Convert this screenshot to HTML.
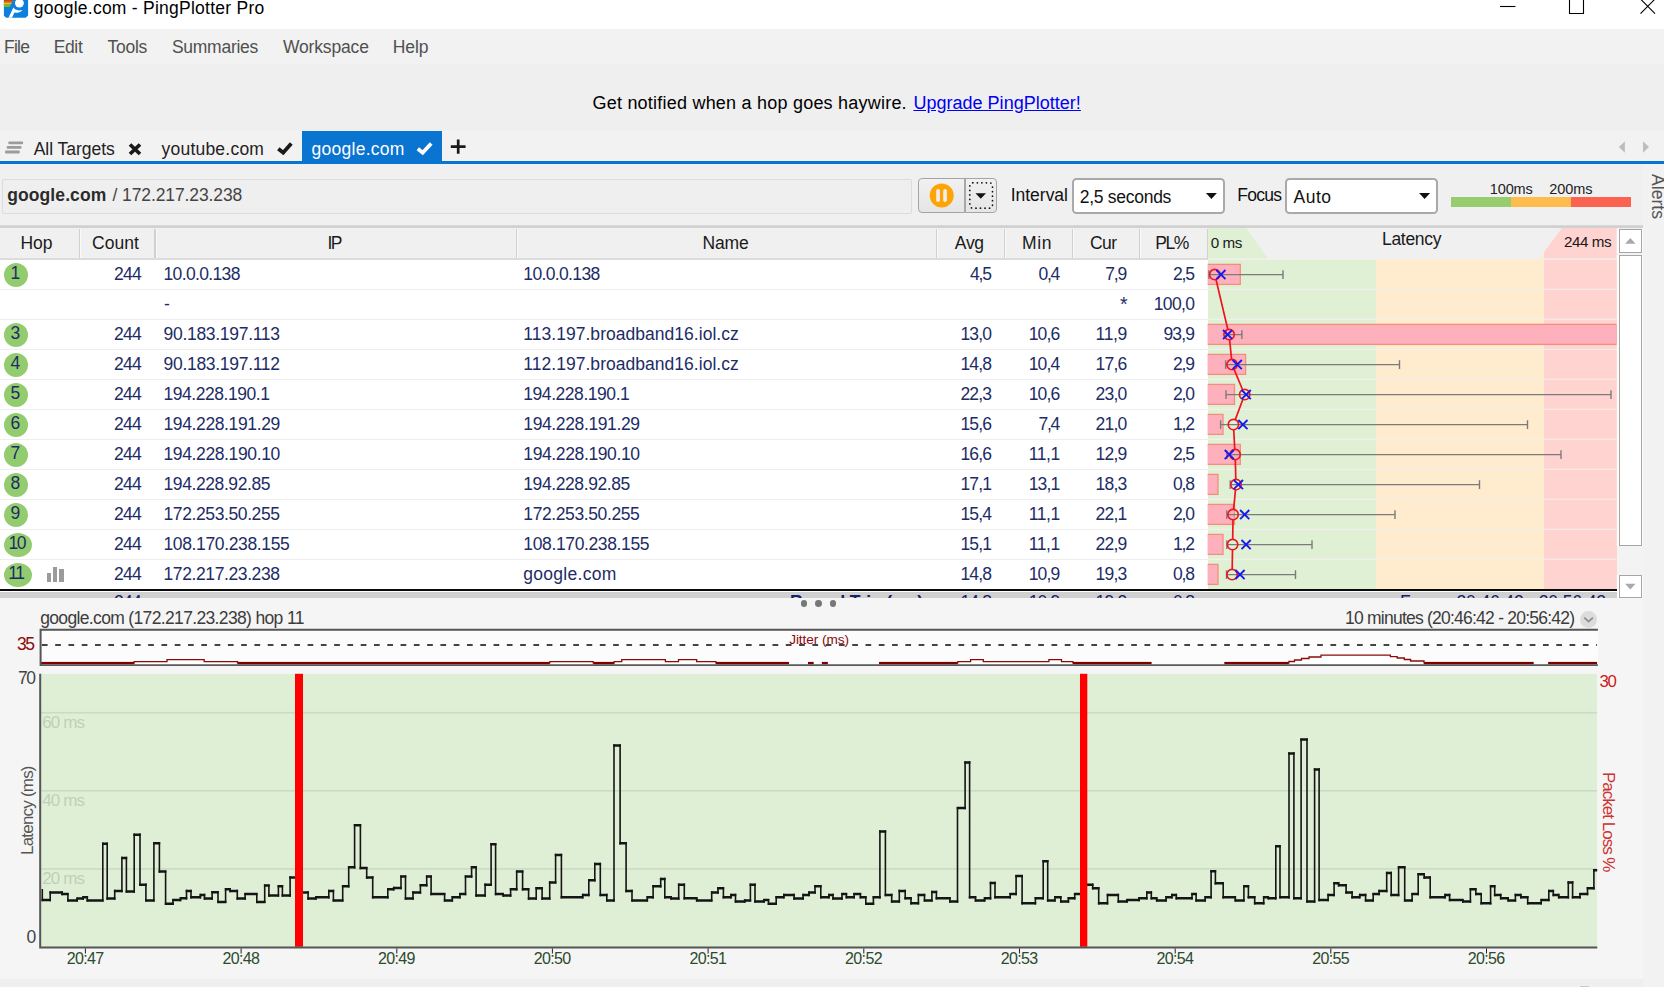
<!DOCTYPE html>
<html lang="en"><head><meta charset="utf-8"><title>google.com - PingPlotter Pro</title>
<style>
html,body{margin:0;padding:0;}
body{width:1664px;height:987px;overflow:hidden;background:#f2f2f2;font-family:"Liberation Sans",sans-serif;position:relative;}
.b{position:absolute;box-sizing:border-box;}
.t{position:absolute;white-space:pre;line-height:20px;height:20px;}
svg{position:absolute;left:0;top:0;overflow:visible;}
a.t{text-decoration:underline;}
</style></head><body>

<div class="b" style="left:0px;top:0px;width:1664px;height:29px;background:#fff;"></div>
<svg width="40" height="29" viewBox="0 0 40 29">
<path d="M3.9 0H28.1V15.6L25.6 17.8H6.2L3.9 15.8Z" fill="#0d80dd"/>
<path d="M3.9 0H13.2L12.45 1.6H3.9Z" fill="#ff3300"/>
<path d="M3.9 1.6H12.45L11.75 2.9H3.9Z" fill="#c08a30"/>
<path d="M3.9 2.9H11.75L11.15 4.1H3.9Z" fill="#ffc000"/>
<path d="M3.9 4.1H11.15L10.75 4.9H3.9Z" fill="#9aa060"/>
<path d="M3.9 4.9H10.75L9.6 7.1H3.9Z" fill="#74c200"/>
<circle cx="19.4" cy="3.1" r="4.45" fill="#fff"/>
<path d="M13.4 7.6C14.5 9.5 17 11.2 22.4 10.1C20.6 12.7 17.5 13.4 14.4 12.5L12 17.8H8.5Z" fill="#fff"/>
</svg>
<span class="t" style="left:33.70px;top:-2.30px;font-size:17.5px;color:#000;letter-spacing:0.254px;">google.com - PingPlotter Pro</span>
<svg width="1664" height="29" viewBox="0 0 1664 29" fill="none" stroke="#000" stroke-width="1.1">
<path d="M1500 6.5H1515.5"/>
<path d="M1569.5 -2V13.5H1583.5V-2"/>
<path d="M1640.5 -1L1655 13.7M1655 -1L1640.5 13.7"/>
</svg>
<span class="t" style="left:4.00px;top:37.30px;font-size:17.5px;color:#505050;letter-spacing:-0.758px;">File</span>
<span class="t" style="left:53.70px;top:37.30px;font-size:17.5px;color:#505050;letter-spacing:-0.363px;">Edit</span>
<span class="t" style="left:107.40px;top:37.30px;font-size:17.5px;color:#505050;letter-spacing:-0.241px;">Tools</span>
<span class="t" style="left:171.90px;top:37.30px;font-size:17.5px;color:#505050;letter-spacing:-0.258px;">Summaries</span>
<span class="t" style="left:282.90px;top:37.30px;font-size:17.5px;color:#505050;letter-spacing:-0.155px;">Workspace</span>
<span class="t" style="left:392.70px;top:37.30px;font-size:17.5px;color:#505050;letter-spacing:-0.088px;">Help</span>
<div class="b" style="left:0px;top:64px;width:1664px;height:67px;background:#efefef;"></div>
<span class="t" style="left:592.50px;top:92.70px;font-size:18px;color:#000;letter-spacing:0.220px;">Get notified when a hop goes haywire.</span>
<a class="t" style="left:913.4px;top:92.70px;font-size:18px;color:#0000f4;letter-spacing:0.02px;">Upgrade PingPlotter!</a>
<svg width="500" height="170" viewBox="0 0 500 170">
<g fill="#9c9c9c"><rect x="8.3" y="141.4" width="14.8" height="2.8" rx="1"/><rect x="6.7" y="145.9" width="14.8" height="2.8" rx="1"/><rect x="5" y="150.5" width="14.8" height="2.9" rx="1"/></g>
<path d="M130 144.5L140 154M140 144.5L130 154" stroke="#1a1a1a" stroke-width="3.7" fill="none"/>
<path d="M278.3 148.7L283.2 152.7L291.3 143.5" stroke="#1a1a1a" stroke-width="3.8" fill="none"/>
<rect x="302" y="131" width="140" height="31" fill="#0a74d1"/>
<path d="M417.8 148.7L422.7 152.7L431.2 143.5" stroke="#fff" stroke-width="3.8" fill="none"/>
<path d="M450.8 146.6H465.6M458.2 139.5V153.7" stroke="#1a1a1a" stroke-width="2.7" fill="none"/>
</svg>
<span class="t" style="left:33.70px;top:138.70px;font-size:17.5px;color:#222;letter-spacing:-0.028px;">All Targets</span>
<span class="t" style="left:161.50px;top:138.70px;font-size:17.5px;color:#222;letter-spacing:0.221px;">youtube.com</span>
<span class="t" style="left:311.50px;top:138.70px;font-size:17.5px;color:#fff;letter-spacing:0.269px;">google.com</span>
<svg width="1664" height="170" viewBox="0 0 1664 170"><g fill="#bdbdbd">
<path d="M1618.9 147L1624.9 141.3V152.8Z"/><path d="M1649 147L1643 141.3V152.8Z"/></g></svg>
<div class="b" style="left:0px;top:161px;width:1664px;height:3px;background:#0a74d1;"></div>
<div class="b" style="left:0px;top:164px;width:1643px;height:62px;background:#f0f0f0;"></div>
<div class="b" style="left:1.5px;top:178.5px;width:910px;height:35px;background:#efefef;border:1px solid #dcdcdc;border-radius:2px;"></div>
<span class="t" style="left:7.20px;top:184.50px;font-size:17.5px;color:#2b2b2b;letter-spacing:0.103px;font-weight:bold;">google.com</span>
<span class="t" style="left:112.50px;top:184.50px;font-size:17.5px;color:#444;letter-spacing:-0.102px;">/ 172.217.23.238</span>
<div class="b" style="left:918px;top:177.6px;width:78.9px;height:35.6px;border:1.7px solid #a4a4a4;border-radius:4px;background:linear-gradient(#f1f1f1,#e5e5e5);"></div>
<div class="b" style="left:964.3px;top:178.5px;width:1.4px;height:34px;background:#a8a8a8;"></div>
<svg width="1664" height="230" viewBox="0 0 1664 230">
<circle cx="941.7" cy="195.5" r="12" fill="#ffa406"/>
<rect x="936.2" y="189.1" width="3.7" height="12.9" rx="1.8" fill="#ededed"/>
<rect x="943.2" y="189.1" width="3.7" height="12.9" rx="1.8" fill="#ededed"/>
<rect x="969.8" y="182.8" width="22.7" height="25.4" rx="3" fill="none" stroke="#111" stroke-width="1.7" stroke-linecap="round" stroke-dasharray="0.1 4.42"/>
<path d="M975.5 193.3H986L980.75 198.8Z" fill="#111"/>
</svg>
<span class="t" style="left:1010.70px;top:185.00px;font-size:17.5px;color:#111;letter-spacing:-0.014px;">Interval</span>
<div class="b" style="left:1072.4px;top:178.1px;width:152.2px;height:35.5px;background:#fff;border:2px solid #a9a9a9;border-radius:4.5px;"></div>
<span class="t" style="left:1079.80px;top:187.30px;font-size:17.5px;color:#111;letter-spacing:-0.281px;">2,5 seconds</span>
<span class="t" style="left:1237.20px;top:185.00px;font-size:17.5px;color:#111;letter-spacing:-0.722px;">Focus</span>
<div class="b" style="left:1285.3px;top:178.1px;width:152.6px;height:35.5px;background:#fff;border:2px solid #a9a9a9;border-radius:4.5px;"></div>
<span class="t" style="left:1293.50px;top:187.30px;font-size:17.5px;color:#111;letter-spacing:0.513px;">Auto</span>
<svg width="1664" height="230" viewBox="0 0 1664 230"><g fill="#111">
<path d="M1205.9 193H1216.9L1211.4 199Z"/><path d="M1419.1 193H1430.1L1424.6 199Z"/></g></svg>
<span class="t" style="left:1489.80px;top:178.50px;font-size:14.5px;color:#222;letter-spacing:-0.150px;">100ms</span>
<span class="t" style="left:1549.30px;top:178.50px;font-size:14.5px;color:#222;letter-spacing:-0.075px;">200ms</span>
<div class="b" style="left:1451px;top:197.3px;width:60px;height:9.3px;background:#97cc6f;"></div>
<div class="b" style="left:1511px;top:197.3px;width:60px;height:9.3px;background:#fdbc4c;"></div>
<div class="b" style="left:1571px;top:197.3px;width:60px;height:9.3px;background:#fc6250;"></div>
<div class="b" style="left:0px;top:225.3px;width:1643px;height:3.5px;background:linear-gradient(#dcdcdc,#cfcfcf 40%,#d6d6d6);"></div>
<div class="b" style="left:0px;top:228px;width:1643px;height:31px;background:#f0f0f0;"></div>
<div class="b" style="left:0px;top:259px;width:1208px;height:331px;background:#fff;"></div>
<div class="b" style="left:1616.8px;top:228.8px;width:26.2px;height:369px;background:#f3f3f3;"></div>
<div class="b" style="left:0px;top:258.4px;width:1208px;height:1.3px;background:#dcdcdc;"></div>
<div class="b" style="left:78.7px;top:229px;width:1.3px;height:29px;background:#d0d0d0;"></div>
<div class="b" style="left:80.0px;top:229px;width:1.2px;height:29px;background:#fafafa;"></div>
<div class="b" style="left:154.4px;top:229px;width:1.3px;height:29px;background:#d0d0d0;"></div>
<div class="b" style="left:155.7px;top:229px;width:1.2px;height:29px;background:#fafafa;"></div>
<div class="b" style="left:515.6999999999999px;top:229px;width:1.3px;height:29px;background:#d0d0d0;"></div>
<div class="b" style="left:517.0px;top:229px;width:1.2px;height:29px;background:#fafafa;"></div>
<div class="b" style="left:935.9px;top:229px;width:1.3px;height:29px;background:#d0d0d0;"></div>
<div class="b" style="left:937.2px;top:229px;width:1.2px;height:29px;background:#fafafa;"></div>
<div class="b" style="left:1003.6999999999999px;top:229px;width:1.3px;height:29px;background:#d0d0d0;"></div>
<div class="b" style="left:1005.0px;top:229px;width:1.2px;height:29px;background:#fafafa;"></div>
<div class="b" style="left:1071.8000000000002px;top:229px;width:1.3px;height:29px;background:#d0d0d0;"></div>
<div class="b" style="left:1073.1000000000001px;top:229px;width:1.2px;height:29px;background:#fafafa;"></div>
<div class="b" style="left:1138.6000000000001px;top:229px;width:1.3px;height:29px;background:#d0d0d0;"></div>
<div class="b" style="left:1139.9px;top:229px;width:1.2px;height:29px;background:#fafafa;"></div>
<div class="b" style="left:1207px;top:229px;width:1.2px;height:29.5px;background:#cfcfcf;"></div>
<span class="t" style="left:20.40px;top:233.20px;font-size:17.5px;color:#1a1a1a;letter-spacing:-0.056px;">Hop</span>
<span class="t" style="left:92.00px;top:233.20px;font-size:17.5px;color:#1a1a1a;letter-spacing:0.069px;">Count</span>
<span class="t" style="left:327.43px;top:233.20px;font-size:17.5px;color:#1a1a1a;letter-spacing:-1.488px;">IP</span>
<span class="t" style="left:702.40px;top:233.20px;font-size:17.5px;color:#1a1a1a;letter-spacing:-0.108px;">Name</span>
<span class="t" style="left:954.80px;top:233.20px;font-size:17.5px;color:#1a1a1a;letter-spacing:-0.269px;">Avg</span>
<span class="t" style="left:1022.10px;top:233.20px;font-size:17.5px;color:#1a1a1a;letter-spacing:0.563px;">Min</span>
<span class="t" style="left:1089.90px;top:233.20px;font-size:17.5px;color:#1a1a1a;letter-spacing:-0.488px;">Cur</span>
<span class="t" style="left:1155.28px;top:233.20px;font-size:17.5px;color:#1a1a1a;letter-spacing:-1.488px;">PL%</span>
<div class="b" style="left:1207.7px;top:259px;width:168.0px;height:331px;background:#dff0d5;"></div>
<div class="b" style="left:1375.7px;top:259px;width:168.0999999999999px;height:331px;background:#ffebcd;"></div>
<div class="b" style="left:1543.8px;top:259px;width:73.0px;height:331px;background:#ffd3cf;"></div>
<div class="b" style="left:3.6px;top:262.5px;width:24.1px;height:24px;border-radius:50%;background:#93cc6e;"></div>
<span class="t" style="left:10.44px;top:262.80px;font-size:17.5px;color:#1d2c66;">1</span>
<span class="t" style="left:114.10px;top:263.70px;font-size:17.5px;color:#1d2c66;letter-spacing:-0.762px;">244</span>
<span class="t" style="left:163.50px;top:263.70px;font-size:17.5px;color:#1d2c66;letter-spacing:-0.643px;">10.0.0.138</span>
<span class="t" style="left:523.30px;top:263.70px;font-size:17.5px;color:#1d2c66;letter-spacing:-0.643px;">10.0.0.138</span>
<span class="t" style="left:970.10px;top:263.70px;font-size:17.5px;color:#1d2c66;letter-spacing:-1.213px;">4,5</span>
<span class="t" style="left:1038.40px;top:263.70px;font-size:17.5px;color:#1d2c66;letter-spacing:-1.212px;">0,4</span>
<span class="t" style="left:1105.30px;top:263.70px;font-size:17.5px;color:#1d2c66;letter-spacing:-1.212px;">7,9</span>
<span class="t" style="left:1173.10px;top:263.70px;font-size:17.5px;color:#1d2c66;letter-spacing:-1.212px;">2,5</span>
<div class="b" style="left:0px;top:288.5px;width:1208px;height:1.2px;background:#eeeeee;"></div>
<span class="t" style="left:164.00px;top:293.70px;font-size:17.5px;color:#1d2c66;">-</span>
<span class="t" style="left:1120.00px;top:293.90px;font-size:19.5px;color:#1d2c66;">*</span>
<span class="t" style="left:1153.70px;top:293.70px;font-size:17.5px;color:#1d2c66;letter-spacing:-0.634px;">100,0</span>
<div class="b" style="left:0px;top:318.5px;width:1208px;height:1.2px;background:#eeeeee;"></div>
<div class="b" style="left:3.6px;top:322.5px;width:24.1px;height:24px;border-radius:50%;background:#93cc6e;"></div>
<span class="t" style="left:10.44px;top:322.80px;font-size:17.5px;color:#1d2c66;">3</span>
<span class="t" style="left:114.10px;top:323.70px;font-size:17.5px;color:#1d2c66;letter-spacing:-0.762px;">244</span>
<span class="t" style="left:163.50px;top:323.70px;font-size:17.5px;color:#1d2c66;letter-spacing:-0.293px;">90.183.197.113</span>
<span class="t" style="left:523.30px;top:323.70px;font-size:17.5px;color:#1d2c66;letter-spacing:0.031px;">113.197.broadband16.iol.cz</span>
<span class="t" style="left:960.40px;top:323.70px;font-size:17.5px;color:#1d2c66;letter-spacing:-0.812px;">13,0</span>
<span class="t" style="left:1028.70px;top:323.70px;font-size:17.5px;color:#1d2c66;letter-spacing:-0.813px;">10,6</span>
<span class="t" style="left:1095.60px;top:323.70px;font-size:17.5px;color:#1d2c66;letter-spacing:-0.375px;">11,9</span>
<span class="t" style="left:1163.40px;top:323.70px;font-size:17.5px;color:#1d2c66;letter-spacing:-0.813px;">93,9</span>
<div class="b" style="left:0px;top:348.5px;width:1208px;height:1.2px;background:#eeeeee;"></div>
<div class="b" style="left:3.6px;top:352.5px;width:24.1px;height:24px;border-radius:50%;background:#93cc6e;"></div>
<span class="t" style="left:10.44px;top:352.80px;font-size:17.5px;color:#1d2c66;">4</span>
<span class="t" style="left:114.10px;top:353.70px;font-size:17.5px;color:#1d2c66;letter-spacing:-0.762px;">244</span>
<span class="t" style="left:163.50px;top:353.70px;font-size:17.5px;color:#1d2c66;letter-spacing:-0.293px;">90.183.197.112</span>
<span class="t" style="left:523.30px;top:353.70px;font-size:17.5px;color:#1d2c66;letter-spacing:0.031px;">112.197.broadband16.iol.cz</span>
<span class="t" style="left:960.40px;top:353.70px;font-size:17.5px;color:#1d2c66;letter-spacing:-0.812px;">14,8</span>
<span class="t" style="left:1028.70px;top:353.70px;font-size:17.5px;color:#1d2c66;letter-spacing:-0.813px;">10,4</span>
<span class="t" style="left:1095.60px;top:353.70px;font-size:17.5px;color:#1d2c66;letter-spacing:-0.813px;">17,6</span>
<span class="t" style="left:1173.10px;top:353.70px;font-size:17.5px;color:#1d2c66;letter-spacing:-1.212px;">2,9</span>
<div class="b" style="left:0px;top:378.5px;width:1208px;height:1.2px;background:#eeeeee;"></div>
<div class="b" style="left:3.6px;top:382.5px;width:24.1px;height:24px;border-radius:50%;background:#93cc6e;"></div>
<span class="t" style="left:10.44px;top:382.80px;font-size:17.5px;color:#1d2c66;">5</span>
<span class="t" style="left:114.10px;top:383.70px;font-size:17.5px;color:#1d2c66;letter-spacing:-0.762px;">244</span>
<span class="t" style="left:163.50px;top:383.70px;font-size:17.5px;color:#1d2c66;letter-spacing:-0.451px;">194.228.190.1</span>
<span class="t" style="left:523.30px;top:383.70px;font-size:17.5px;color:#1d2c66;letter-spacing:-0.451px;">194.228.190.1</span>
<span class="t" style="left:960.40px;top:383.70px;font-size:17.5px;color:#1d2c66;letter-spacing:-0.812px;">22,3</span>
<span class="t" style="left:1028.70px;top:383.70px;font-size:17.5px;color:#1d2c66;letter-spacing:-0.813px;">10,6</span>
<span class="t" style="left:1095.60px;top:383.70px;font-size:17.5px;color:#1d2c66;letter-spacing:-0.813px;">23,0</span>
<span class="t" style="left:1173.10px;top:383.70px;font-size:17.5px;color:#1d2c66;letter-spacing:-1.212px;">2,0</span>
<div class="b" style="left:0px;top:408.5px;width:1208px;height:1.2px;background:#eeeeee;"></div>
<div class="b" style="left:3.6px;top:412.5px;width:24.1px;height:24px;border-radius:50%;background:#93cc6e;"></div>
<span class="t" style="left:10.44px;top:412.80px;font-size:17.5px;color:#1d2c66;">6</span>
<span class="t" style="left:114.10px;top:413.70px;font-size:17.5px;color:#1d2c66;letter-spacing:-0.762px;">244</span>
<span class="t" style="left:163.50px;top:413.70px;font-size:17.5px;color:#1d2c66;letter-spacing:-0.379px;">194.228.191.29</span>
<span class="t" style="left:523.30px;top:413.70px;font-size:17.5px;color:#1d2c66;letter-spacing:-0.379px;">194.228.191.29</span>
<span class="t" style="left:960.40px;top:413.70px;font-size:17.5px;color:#1d2c66;letter-spacing:-0.812px;">15,6</span>
<span class="t" style="left:1038.40px;top:413.70px;font-size:17.5px;color:#1d2c66;letter-spacing:-1.212px;">7,4</span>
<span class="t" style="left:1095.60px;top:413.70px;font-size:17.5px;color:#1d2c66;letter-spacing:-0.813px;">21,0</span>
<span class="t" style="left:1173.10px;top:413.70px;font-size:17.5px;color:#1d2c66;letter-spacing:-1.212px;">1,2</span>
<div class="b" style="left:0px;top:438.5px;width:1208px;height:1.2px;background:#eeeeee;"></div>
<div class="b" style="left:3.6px;top:442.5px;width:24.1px;height:24px;border-radius:50%;background:#93cc6e;"></div>
<span class="t" style="left:10.44px;top:442.80px;font-size:17.5px;color:#1d2c66;">7</span>
<span class="t" style="left:114.10px;top:443.70px;font-size:17.5px;color:#1d2c66;letter-spacing:-0.762px;">244</span>
<span class="t" style="left:163.50px;top:443.70px;font-size:17.5px;color:#1d2c66;letter-spacing:-0.379px;">194.228.190.10</span>
<span class="t" style="left:523.30px;top:443.70px;font-size:17.5px;color:#1d2c66;letter-spacing:-0.379px;">194.228.190.10</span>
<span class="t" style="left:960.40px;top:443.70px;font-size:17.5px;color:#1d2c66;letter-spacing:-0.812px;">16,6</span>
<span class="t" style="left:1028.70px;top:443.70px;font-size:17.5px;color:#1d2c66;letter-spacing:-0.375px;">11,1</span>
<span class="t" style="left:1095.60px;top:443.70px;font-size:17.5px;color:#1d2c66;letter-spacing:-0.813px;">12,9</span>
<span class="t" style="left:1173.10px;top:443.70px;font-size:17.5px;color:#1d2c66;letter-spacing:-1.212px;">2,5</span>
<div class="b" style="left:0px;top:468.5px;width:1208px;height:1.2px;background:#eeeeee;"></div>
<div class="b" style="left:3.6px;top:472.5px;width:24.1px;height:24px;border-radius:50%;background:#93cc6e;"></div>
<span class="t" style="left:10.44px;top:472.80px;font-size:17.5px;color:#1d2c66;">8</span>
<span class="t" style="left:114.10px;top:473.70px;font-size:17.5px;color:#1d2c66;letter-spacing:-0.762px;">244</span>
<span class="t" style="left:163.50px;top:473.70px;font-size:17.5px;color:#1d2c66;letter-spacing:-0.409px;">194.228.92.85</span>
<span class="t" style="left:523.30px;top:473.70px;font-size:17.5px;color:#1d2c66;letter-spacing:-0.409px;">194.228.92.85</span>
<span class="t" style="left:960.40px;top:473.70px;font-size:17.5px;color:#1d2c66;letter-spacing:-0.812px;">17,1</span>
<span class="t" style="left:1028.70px;top:473.70px;font-size:17.5px;color:#1d2c66;letter-spacing:-0.813px;">13,1</span>
<span class="t" style="left:1095.60px;top:473.70px;font-size:17.5px;color:#1d2c66;letter-spacing:-0.813px;">18,3</span>
<span class="t" style="left:1173.10px;top:473.70px;font-size:17.5px;color:#1d2c66;letter-spacing:-1.212px;">0,8</span>
<div class="b" style="left:0px;top:498.5px;width:1208px;height:1.2px;background:#eeeeee;"></div>
<div class="b" style="left:3.6px;top:502.5px;width:24.1px;height:24px;border-radius:50%;background:#93cc6e;"></div>
<span class="t" style="left:10.44px;top:502.80px;font-size:17.5px;color:#1d2c66;">9</span>
<span class="t" style="left:114.10px;top:503.70px;font-size:17.5px;color:#1d2c66;letter-spacing:-0.762px;">244</span>
<span class="t" style="left:163.50px;top:503.70px;font-size:17.5px;color:#1d2c66;letter-spacing:-0.394px;">172.253.50.255</span>
<span class="t" style="left:523.30px;top:503.70px;font-size:17.5px;color:#1d2c66;letter-spacing:-0.394px;">172.253.50.255</span>
<span class="t" style="left:960.40px;top:503.70px;font-size:17.5px;color:#1d2c66;letter-spacing:-0.812px;">15,4</span>
<span class="t" style="left:1028.70px;top:503.70px;font-size:17.5px;color:#1d2c66;letter-spacing:-0.375px;">11,1</span>
<span class="t" style="left:1095.60px;top:503.70px;font-size:17.5px;color:#1d2c66;letter-spacing:-0.813px;">22,1</span>
<span class="t" style="left:1173.10px;top:503.70px;font-size:17.5px;color:#1d2c66;letter-spacing:-1.212px;">2,0</span>
<div class="b" style="left:0px;top:528.5px;width:1208px;height:1.2px;background:#eeeeee;"></div>
<div class="b" style="left:3.7px;top:532.6px;width:27.9px;height:24px;border-radius:50%;background:#93cc6e;"></div>
<span class="t" style="left:8.48px;top:532.80px;font-size:17.5px;color:#1d2c66;letter-spacing:-1.488px;">10</span>
<span class="t" style="left:114.10px;top:533.70px;font-size:17.5px;color:#1d2c66;letter-spacing:-0.762px;">244</span>
<span class="t" style="left:163.50px;top:533.70px;font-size:17.5px;color:#1d2c66;letter-spacing:-0.366px;">108.170.238.155</span>
<span class="t" style="left:523.30px;top:533.70px;font-size:17.5px;color:#1d2c66;letter-spacing:-0.366px;">108.170.238.155</span>
<span class="t" style="left:960.40px;top:533.70px;font-size:17.5px;color:#1d2c66;letter-spacing:-0.812px;">15,1</span>
<span class="t" style="left:1028.70px;top:533.70px;font-size:17.5px;color:#1d2c66;letter-spacing:-0.375px;">11,1</span>
<span class="t" style="left:1095.60px;top:533.70px;font-size:17.5px;color:#1d2c66;letter-spacing:-0.813px;">22,9</span>
<span class="t" style="left:1173.10px;top:533.70px;font-size:17.5px;color:#1d2c66;letter-spacing:-1.212px;">1,2</span>
<div class="b" style="left:0px;top:558.5px;width:1208px;height:1.2px;background:#eeeeee;"></div>
<div class="b" style="left:3.7px;top:562.6px;width:27.9px;height:24px;border-radius:50%;background:#93cc6e;"></div>
<span class="t" style="left:8.24px;top:562.80px;font-size:17.5px;color:#1d2c66;letter-spacing:-1.488px;">11</span>
<span class="t" style="left:114.10px;top:563.70px;font-size:17.5px;color:#1d2c66;letter-spacing:-0.762px;">244</span>
<span class="t" style="left:163.50px;top:563.70px;font-size:17.5px;color:#1d2c66;letter-spacing:-0.394px;">172.217.23.238</span>
<span class="t" style="left:523.30px;top:563.70px;font-size:17.5px;color:#1d2c66;letter-spacing:0.281px;">google.com</span>
<span class="t" style="left:960.40px;top:563.70px;font-size:17.5px;color:#1d2c66;letter-spacing:-0.812px;">14,8</span>
<span class="t" style="left:1028.70px;top:563.70px;font-size:17.5px;color:#1d2c66;letter-spacing:-0.813px;">10,9</span>
<span class="t" style="left:1095.60px;top:563.70px;font-size:17.5px;color:#1d2c66;letter-spacing:-0.813px;">19,3</span>
<span class="t" style="left:1173.10px;top:563.70px;font-size:17.5px;color:#1d2c66;letter-spacing:-1.212px;">0,8</span>
<div class="b" style="left:47.1px;top:572.6px;width:3.9px;height:9.1px;background:#9b9b9b;"></div>
<div class="b" style="left:52.9px;top:567.3px;width:4.3px;height:14.4px;background:#9b9b9b;"></div>
<div class="b" style="left:59.3px;top:569.4px;width:4.6px;height:12.3px;background:#9b9b9b;"></div>
<svg width="1664" height="600" viewBox="0 0 1664 600"><defs><clipPath id="lc"><rect x="1207.7" y="228" width="409.1" height="361.3"/></clipPath></defs><g clip-path="url(#lc)">
<path d="M1207.7 228H1246L1268 258.5H1207.7Z" fill="#dff0d5"/>
<path d="M1562 228H1616.8V258.5H1544V252Z" fill="#ffd3cf"/>
<path d="M1544 252V258.5H1539.5Z" fill="#ffebcd"/>
<rect x="1207.7" y="258.7" width="409.1" height="1.2" fill="#f4f1ec" opacity="0.85"/>
<rect x="1207.7" y="288.7" width="409.1" height="1.2" fill="#f4f1ec" opacity="0.85"/>
<rect x="1207.7" y="318.7" width="409.1" height="1.2" fill="#f4f1ec" opacity="0.85"/>
<rect x="1207.7" y="348.7" width="409.1" height="1.2" fill="#f4f1ec" opacity="0.85"/>
<rect x="1207.7" y="378.7" width="409.1" height="1.2" fill="#f4f1ec" opacity="0.85"/>
<rect x="1207.7" y="408.7" width="409.1" height="1.2" fill="#f4f1ec" opacity="0.85"/>
<rect x="1207.7" y="438.7" width="409.1" height="1.2" fill="#f4f1ec" opacity="0.85"/>
<rect x="1207.7" y="468.7" width="409.1" height="1.2" fill="#f4f1ec" opacity="0.85"/>
<rect x="1207.7" y="498.7" width="409.1" height="1.2" fill="#f4f1ec" opacity="0.85"/>
<rect x="1207.7" y="528.7" width="409.1" height="1.2" fill="#f4f1ec" opacity="0.85"/>
<rect x="1207.7" y="558.7" width="409.1" height="1.2" fill="#f4f1ec" opacity="0.85"/>
<rect x="1206.7" y="264.4" width="33.6" height="20" fill="#feb1bc" stroke="#f28f7c" stroke-width="1.3"/>
<path d="M1208.9 274.6H1283.0M1208.9 270.3v8.6M1283.0 270.3v8.6" stroke="#7b7b7b" stroke-width="1.4" fill="none"/>
<rect x="1206.7" y="324.4" width="410.1" height="20" fill="#feb1bc" stroke="#f28f7c" stroke-width="1.3"/>
<path d="M1226.0 334.6H1241.9M1226.0 330.3v8.6M1241.9 330.3v8.6" stroke="#7b7b7b" stroke-width="1.4" fill="none"/>
<rect x="1206.7" y="354.4" width="38.9" height="20" fill="#feb1bc" stroke="#f28f7c" stroke-width="1.3"/>
<path d="M1225.6 364.6H1399.5M1225.6 360.3v8.6M1399.5 360.3v8.6" stroke="#7b7b7b" stroke-width="1.4" fill="none"/>
<rect x="1206.7" y="384.4" width="27.8" height="20" fill="#feb1bc" stroke="#f28f7c" stroke-width="1.3"/>
<path d="M1226.0 394.6H1611.0M1226.0 390.3v8.6M1611.0 390.3v8.6" stroke="#7b7b7b" stroke-width="1.4" fill="none"/>
<rect x="1206.7" y="414.4" width="16.3" height="20" fill="#feb1bc" stroke="#f28f7c" stroke-width="1.3"/>
<path d="M1220.6 424.6H1527.5M1220.6 420.3v8.6M1527.5 420.3v8.6" stroke="#7b7b7b" stroke-width="1.4" fill="none"/>
<rect x="1206.7" y="444.4" width="33.6" height="20" fill="#feb1bc" stroke="#f28f7c" stroke-width="1.3"/>
<path d="M1226.8 454.6H1561.0M1226.8 450.3v8.6M1561.0 450.3v8.6" stroke="#7b7b7b" stroke-width="1.4" fill="none"/>
<rect x="1206.7" y="474.4" width="11.3" height="20" fill="#feb1bc" stroke="#f28f7c" stroke-width="1.3"/>
<path d="M1230.2 484.6H1479.5M1230.2 480.3v8.6M1479.5 480.3v8.6" stroke="#7b7b7b" stroke-width="1.4" fill="none"/>
<rect x="1206.7" y="504.4" width="27.8" height="20" fill="#feb1bc" stroke="#f28f7c" stroke-width="1.3"/>
<path d="M1226.8 514.6H1395.0M1226.8 510.3v8.6M1395.0 510.3v8.6" stroke="#7b7b7b" stroke-width="1.4" fill="none"/>
<rect x="1206.7" y="534.4" width="16.3" height="20" fill="#feb1bc" stroke="#f28f7c" stroke-width="1.3"/>
<path d="M1226.8 544.6H1312.0M1226.8 540.3v8.6M1312.0 540.3v8.6" stroke="#7b7b7b" stroke-width="1.4" fill="none"/>
<rect x="1206.7" y="564.4" width="11.3" height="20" fill="#feb1bc" stroke="#f28f7c" stroke-width="1.3"/>
<path d="M1226.5 574.6H1295.5M1226.5 570.3v8.6M1295.5 570.3v8.6" stroke="#7b7b7b" stroke-width="1.4" fill="none"/>
<path d="M1216.0 279.5L1227.9 329.7M1229.6 339.6L1231.6 359.6M1234.0 369.2L1242.7 390.0M1242.9 399.3L1235.2 419.9M1233.7 429.6L1234.8 449.6M1235.3 459.6L1235.8 479.6M1235.5 489.6L1233.6 509.6M1233.0 519.6L1232.7 539.6M1232.5 549.6L1232.2 569.6" stroke="#f0141e" stroke-width="1.7" fill="none"/>
<circle cx="1214.8" cy="274.6" r="5.2" stroke="#f0141e" stroke-width="1.6" fill="none"/>
<path d="M1216.3 270.0l9.2 9.2m0 -9.2l-9.2 9.2" stroke="#1a1aee" stroke-width="1.9" fill="none"/>
<circle cx="1229.1" cy="334.6" r="5.2" stroke="#f0141e" stroke-width="1.6" fill="none"/>
<path d="M1223.0 330.0l9.2 9.2m0 -9.2l-9.2 9.2" stroke="#1a1aee" stroke-width="1.9" fill="none"/>
<circle cx="1232.1" cy="364.6" r="5.2" stroke="#f0141e" stroke-width="1.6" fill="none"/>
<path d="M1232.6 360.0l9.2 9.2m0 -9.2l-9.2 9.2" stroke="#1a1aee" stroke-width="1.9" fill="none"/>
<circle cx="1244.7" cy="394.6" r="5.2" stroke="#f0141e" stroke-width="1.6" fill="none"/>
<path d="M1241.6 390.0l9.2 9.2m0 -9.2l-9.2 9.2" stroke="#1a1aee" stroke-width="1.9" fill="none"/>
<circle cx="1233.4" cy="424.6" r="5.2" stroke="#f0141e" stroke-width="1.6" fill="none"/>
<path d="M1238.3 420.0l9.2 9.2m0 -9.2l-9.2 9.2" stroke="#1a1aee" stroke-width="1.9" fill="none"/>
<circle cx="1235.1" cy="454.6" r="5.2" stroke="#f0141e" stroke-width="1.6" fill="none"/>
<path d="M1224.7 450.0l9.2 9.2m0 -9.2l-9.2 9.2" stroke="#1a1aee" stroke-width="1.9" fill="none"/>
<circle cx="1236.0" cy="484.6" r="5.2" stroke="#f0141e" stroke-width="1.6" fill="none"/>
<path d="M1233.8 480.0l9.2 9.2m0 -9.2l-9.2 9.2" stroke="#1a1aee" stroke-width="1.9" fill="none"/>
<circle cx="1233.1" cy="514.6" r="5.2" stroke="#f0141e" stroke-width="1.6" fill="none"/>
<path d="M1240.1 510.0l9.2 9.2m0 -9.2l-9.2 9.2" stroke="#1a1aee" stroke-width="1.9" fill="none"/>
<circle cx="1232.6" cy="544.6" r="5.2" stroke="#f0141e" stroke-width="1.6" fill="none"/>
<path d="M1241.5 540.0l9.2 9.2m0 -9.2l-9.2 9.2" stroke="#1a1aee" stroke-width="1.9" fill="none"/>
<circle cx="1232.1" cy="574.6" r="5.2" stroke="#f0141e" stroke-width="1.6" fill="none"/>
<path d="M1235.4 570.0l9.2 9.2m0 -9.2l-9.2 9.2" stroke="#1a1aee" stroke-width="1.9" fill="none"/>
</g></svg>
<span class="t" style="left:1210.70px;top:232.70px;font-size:15.2px;color:#1a1a1a;letter-spacing:-0.403px;">0 ms</span>
<span class="t" style="left:1382.00px;top:229.30px;font-size:17.5px;color:#1a1a1a;letter-spacing:-0.306px;">Latency</span>
<span class="t" style="left:1563.90px;top:232.30px;font-size:15.2px;color:#1a1a1a;letter-spacing:-0.431px;">244 ms</span>
<div class="b" style="left:1619px;top:229.3px;width:23px;height:23.5px;background:#fff;border:1.8px solid #a6a6a6;box-shadow:-2.2px 0 0 #fdfdfd,0.8px 0 0 #fdfdfd;"></div>
<div class="b" style="left:1619px;top:255.3px;width:23px;height:291.2px;background:#fff;border:1.8px solid #a6a6a6;box-shadow:-2.2px 0 0 #fdfdfd,0.8px 0 0 #fdfdfd;"></div>
<div class="b" style="left:1619px;top:575.3px;width:23px;height:22.6px;background:#fff;border:1.8px solid #a6a6a6;box-shadow:-2.2px 0 0 #fdfdfd,0.8px 0 0 #fdfdfd;"></div>
<svg width="1664" height="600" viewBox="0 0 1664 600"><g fill="#a9a9a9">
<path d="M1625.1 243.8H1635.5L1630.3 238Z"/><path d="M1625.1 583.7H1635.5L1630.3 589.5Z"/></g></svg>
<div class="b" style="left:0px;top:589.3px;width:1617px;height:2px;background:#0a0a0a;"></div>
<div class="b" style="left:0px;top:591.3px;width:1617px;height:1px;background:#fff;"></div>
<div class="b" style="left:0;top:592.3px;width:1617px;height:5.5px;background:#d0d0d0;overflow:hidden;">
<span class="t" style="left:114.10px;top:0.00px;font-size:17.5px;color:#14206a;letter-spacing:-0.762px;">244</span>
<span class="t" style="left:790.00px;top:0.00px;font-size:17.5px;color:#14206a;letter-spacing:-0.081px;font-weight:bold;">Round Trip (ms)</span>
<span class="t" style="left:960.40px;top:0.00px;font-size:17.5px;color:#14206a;letter-spacing:-0.812px;">14,8</span>
<span class="t" style="left:1028.70px;top:0.00px;font-size:17.5px;color:#14206a;letter-spacing:-0.813px;">10,9</span>
<span class="t" style="left:1095.60px;top:0.00px;font-size:17.5px;color:#14206a;letter-spacing:-0.813px;">19,3</span>
<span class="t" style="left:1173.10px;top:0.00px;font-size:17.5px;color:#14206a;letter-spacing:-1.212px;">0,8</span>
<span class="t" style="left:1400.00px;top:0.00px;font-size:17.5px;color:#14206a;letter-spacing:-0.128px;">Focus: 20:46:42 - 20:56:42</span>
</div>
<div class="b" style="left:0px;top:597.8px;width:1643px;height:381px;background:#f5f5f5;"></div>
<div class="b" style="left:800.6px;top:599.9px;width:6.8px;height:6.8px;border-radius:50%;background:#777;"></div>
<div class="b" style="left:815.1px;top:599.9px;width:6.8px;height:6.8px;border-radius:50%;background:#777;"></div>
<div class="b" style="left:829.6px;top:599.9px;width:6.8px;height:6.8px;border-radius:50%;background:#777;"></div>
<span class="t" style="left:40.20px;top:608.00px;font-size:17.5px;color:#3c3c3c;letter-spacing:-0.651px;">google.com (172.217.23.238) hop 11</span>
<span class="t" style="left:1345.00px;top:608.00px;font-size:17.5px;color:#3c3c3c;letter-spacing:-0.769px;">10 minutes (20:46:42 - 20:56:42)</span>
<div class="b" style="left:1580.2px;top:610.8px;width:16.8px;height:16.8px;border-radius:50%;background:#dcdcdc;"></div>
<div class="b" style="left:40px;top:629px;width:1558px;height:36.8px;background:#fcfcfc;"></div>
<span class="t" style="left:16.98px;top:633.50px;font-size:17.5px;color:#8a0a0a;letter-spacing:-1.488px;">35</span>
<svg width="1664" height="987" viewBox="0 0 1664 987">
<path d="M1584.3 617.6L1588.6 621.6L1592.9 617.6" stroke="#8e8e8e" stroke-width="1.8" fill="none"/>
<path d="M41.9 645H1597" stroke="#444" stroke-width="1.8" stroke-dasharray="5.7 7.584" fill="none"/>
<rect x="41.0" y="661.9" width="93.2" height="2.4" fill="#7b0000"/>
<rect x="237.5" y="661.9" width="312.3" height="2.4" fill="#7b0000"/>
<rect x="593.2" y="661.9" width="21.0" height="2.4" fill="#7b0000"/>
<rect x="715.9" y="661.9" width="73.1" height="2.4" fill="#7b0000"/>
<rect x="808.0" y="661.9" width="5.7" height="2.4" fill="#7b0000"/>
<rect x="821.9" y="661.9" width="6.0" height="2.4" fill="#7b0000"/>
<rect x="879.0" y="661.9" width="78.8" height="2.4" fill="#7b0000"/>
<rect x="1072.9" y="661.9" width="78.7" height="2.4" fill="#7b0000"/>
<rect x="1224.3" y="661.9" width="64.6" height="2.4" fill="#7b0000"/>
<rect x="1424.0" y="661.9" width="109.7" height="2.4" fill="#7b0000"/>
<rect x="1548.1" y="661.9" width="48.9" height="2.4" fill="#7b0000"/>
<path d="M134.2 663.4L134.2 661.7L167.0 661.7L167.0 659.7L204.2 659.7L204.2 661.7L237.5 661.7L237.5 663.4" stroke="#8a0a0a" stroke-width="1.3" fill="#fff"/>
<path d="M549.8 663.4L549.8 661.7L593.2 661.7L593.2 663.4" stroke="#8a0a0a" stroke-width="1.3" fill="#fff"/>
<path d="M614.2 663.4L614.2 661.7L621.7 661.7L621.7 659.7L665.4 659.7L665.4 661.7L678.5 661.7L678.5 659.7L696.7 659.7L696.7 661.7L715.9 661.7L715.9 663.4" stroke="#8a0a0a" stroke-width="1.3" fill="#fff"/>
<path d="M957.8 663.4L957.8 661.7L970.6 661.7L970.6 659.7L983.3 659.7L983.3 661.7L1048.9 661.7L1048.9 659.7L1061.5 659.7L1061.5 661.7L1072.9 661.7L1072.9 663.4" stroke="#8a0a0a" stroke-width="1.3" fill="#fff"/>
<path d="M1288.9 663.4L1288.9 661.5L1294.5 661.5L1294.5 660.0L1301.5 660.0L1301.5 658.5L1309.0 658.5L1309.0 657.0L1321.0 657.0L1321.0 655.2L1390.4 655.2L1390.4 656.6L1397.2 656.6L1397.2 658.0L1404.3 658.0L1404.3 659.5L1410.6 659.5L1410.6 661.0L1424.0 661.0L1424.0 663.4" stroke="#8a0a0a" stroke-width="1.3" fill="#fff"/>
<path d="M40.6 666V629.85H1597.9" stroke="#555" stroke-width="2" fill="none"/>
<path d="M40 665.1H1597.9" stroke="#5a5a5a" stroke-width="1.8" fill="none"/>
<rect x="41" y="673.8" width="1556" height="273.5" fill="#dfefd6"/>
<rect x="41" y="711.9" width="1556" height="1.6" fill="#cbdbc3"/>
<rect x="41" y="790.0" width="1556" height="1.6" fill="#cbdbc3"/>
<rect x="41" y="868.1" width="1556" height="1.6" fill="#cbdbc3"/>
</svg>
<span class="t" style="left:789.20px;top:629.90px;font-size:13.6px;color:#8a0a0a;letter-spacing:-0.065px;">Jitter (ms)</span>
<span class="t" style="left:42.20px;top:712.90px;font-size:17px;color:#c0cfb9;letter-spacing:-0.856px;">60 ms</span>
<span class="t" style="left:42.20px;top:790.90px;font-size:17px;color:#c0cfb9;letter-spacing:-0.856px;">40 ms</span>
<span class="t" style="left:42.20px;top:868.90px;font-size:17px;color:#c0cfb9;letter-spacing:-0.856px;">20 ms</span>
<svg width="1664" height="987" viewBox="0 0 1664 987">
<path d="M41.5 900.1H51.0M49.4 892.5H62.9M61.3 894.1H68.7M67.1 900.4H78.0M76.4 898.6H84.0M82.4 897.3H88.1M86.5 900.4H103.6M102.0 843.8H108.0M106.4 898.6H115.5M113.9 891.0H122.7M121.1 858.0H127.2M125.6 891.6H135.0M133.4 834.8H140.8M139.2 884.7H146.7M145.1 900.4H154.7M153.1 843.3H160.2M158.6 871.6H166.4M164.8 903.7H173.8M172.2 900.1H181.3M179.7 898.3H187.3M185.7 891.0H191.8M190.2 897.3H201.2M199.6 895.0H205.3M203.7 898.6H212.9M211.3 892.3H218.8M217.2 901.9H226.4M224.8 889.2H230.9M229.3 891.0H238.1M236.5 898.6H245.9M244.3 894.1H257.6M256.0 901.9H265.5M263.9 885.6H269.7M268.1 895.5H279.2M277.6 886.2H283.2M281.6 895.5H290.9M289.3 877.5H299.8M298.2 892.5H308.9M307.3 898.6H316.7M315.1 897.3H329.6M328.0 891.0H334.2M332.6 900.4H343.5M341.9 886.2H349.5M347.9 867.2H355.4M353.8 825.2H361.2M359.6 868.1H367.5M365.9 877.5H373.5M371.9 897.3H388.6M387.0 889.2H394.5M392.9 888.0H401.8M400.2 876.6H406.3M404.7 898.6H413.8M412.2 892.5H421.2M419.6 885.3H427.5M425.9 876.6H431.9M430.3 894.1H445.4M443.8 900.4H453.1M451.5 897.3H460.7M459.1 894.1H466.3M464.7 876.6H472.4M470.8 867.2H476.9M475.3 895.5H485.9M484.3 884.7H491.9M490.3 844.2H496.4M494.8 894.1H504.0M502.4 895.5H511.4M509.8 889.2H517.5M515.9 871.6H523.4M521.8 889.2H529.4M527.8 898.6H537.0M535.4 888.3H542.9M541.3 898.6H550.5M548.9 882.4H556.4M554.8 855.0H562.2M560.6 897.3H583.5M581.9 895.0H589.6M588.0 880.2H595.6M594.0 864.0H601.1M599.5 895.0H607.6M606.0 900.4H614.8M613.2 745.4H620.9M619.3 843.3H626.9M625.3 891.0H632.8M631.2 900.4H648.1M646.5 897.3H653.9M652.3 886.2H661.5M659.9 879.0H665.6M664.0 897.3H671.9M670.3 898.6H679.5M677.9 884.7H685.1M683.5 898.3H697.5M695.9 900.4H712.5M710.9 892.5H718.8M717.2 888.3H724.2M722.6 897.3H731.8M730.2 895.0H736.3M734.7 901.5H745.5M743.9 900.4H751.2M749.6 884.7H755.8M754.2 901.5H764.8M763.2 900.1H769.3M767.7 903.7H777.0M775.4 897.3H784.6M783.0 895.0H794.9M793.3 898.6H803.9M802.3 895.0H809.8M808.2 892.5H815.8M814.2 886.2H821.6M820.0 897.3H829.7M828.1 895.0H833.8M832.2 898.6H842.8M841.2 894.1H847.2M845.6 897.3H854.9M853.3 894.1H861.2M859.6 897.3H866.6M865.0 903.7H874.2M872.6 897.3H880.7M879.1 831.5H886.2M884.6 895.0H892.5M890.9 901.5H900.1M898.5 891.0H906.0M904.4 898.3H911.8M910.2 903.3H919.2M917.6 895.0H925.3M923.7 900.4H932.7M931.1 891.9H937.2M935.6 898.3H950.7M949.1 901.5H958.3M956.7 808.1H965.9M964.3 762.5H970.4M968.8 897.3H976.3M974.7 900.4H985.4M983.8 898.3H991.3M989.7 882.9H995.8M994.2 897.3H1011.0M1009.4 894.1H1016.9M1015.3 876.1H1022.9M1021.3 903.3H1036.2M1034.6 898.3H1044.0M1042.4 861.3H1048.5M1046.9 900.4H1055.7M1054.1 897.3H1061.6M1060.0 901.5H1069.2M1067.6 898.3H1075.5M1073.9 894.1H1084.5M1082.9 884.7H1093.5M1091.9 888.3H1099.5M1097.9 903.3H1108.3M1106.7 895.0H1119.1M1117.5 901.5H1127.8M1126.2 900.1H1139.9M1138.3 898.3H1147.6M1146.0 892.5H1152.1M1150.5 898.3H1157.5M1155.9 900.4H1166.9M1165.3 897.3H1172.7M1171.1 895.0H1177.1M1175.5 898.3H1192.8M1191.2 894.1H1196.9M1195.3 900.4H1206.0M1204.4 897.3H1211.9M1210.3 871.2H1216.2M1214.6 883.3H1224.0M1222.4 897.3H1236.1M1234.5 900.4H1244.7M1243.1 886.2H1249.2M1247.6 897.3H1255.5M1253.9 903.3H1264.5M1262.9 897.3H1269.1M1267.5 898.3H1276.6M1275.0 846.3H1280.8M1279.2 897.3H1289.8M1288.2 753.5H1294.7M1293.1 898.3H1301.9M1300.3 739.6H1307.8M1306.2 901.5H1315.4M1313.8 769.4H1319.9M1318.3 900.1H1328.9M1327.3 895.0H1334.9M1333.3 883.3H1339.4M1337.8 885.3H1346.9M1345.3 892.5H1352.9M1351.3 897.3H1360.5M1358.9 895.0H1366.4M1364.8 900.4H1374.0M1372.4 894.1H1379.9M1378.3 891.0H1387.5M1385.9 873.0H1392.0M1390.4 895.0H1399.4M1397.8 867.2H1405.5M1403.9 900.4H1412.9M1411.3 894.1H1419.0M1417.4 874.3H1425.0M1423.4 877.5H1431.0M1429.4 897.3H1445.9M1444.3 895.0H1450.4M1448.8 900.1H1463.6M1462.0 901.5H1471.2M1469.6 889.2H1476.6M1475.0 894.1H1482.0M1480.4 903.3H1491.4M1489.8 886.2H1495.5M1493.9 895.0H1501.5M1499.9 898.3H1509.0M1507.4 900.4H1516.2M1514.6 895.0H1521.6M1520.0 897.3H1528.5M1526.9 903.3H1542.0M1540.4 900.1H1549.6M1548.0 891.0H1554.1M1552.5 895.0H1559.5M1557.9 897.3H1569.1M1567.5 882.4H1573.4M1571.8 897.3H1580.8M1579.2 894.1H1588.3M1586.7 888.3H1594.7M1593.1 870.3H1597.2" stroke="#151515" stroke-width="2.5" fill="none"/>
<path d="M42.3 888.9V901.3M50.2 891.3V901.3M62.1 891.3V895.3M67.9 892.9V901.6M77.2 897.4V901.6M83.2 896.1V899.8M87.3 896.1V901.6M102.8 842.6V901.6M107.2 842.6V899.8M114.7 889.8V899.8M121.9 856.8V892.2M126.4 856.8V892.8M134.2 833.6V892.8M140.0 833.6V885.9M145.9 883.5V901.6M153.9 842.1V901.6M159.4 842.1V872.8M165.6 870.4V904.9M173.0 898.9V904.9M180.5 897.1V901.3M186.5 889.8V899.5M191.0 889.8V898.5M200.4 893.8V898.5M204.5 893.8V899.8M212.1 891.1V899.8M218.0 891.1V903.1M225.6 888.0V903.1M230.1 888.0V892.2M237.3 889.8V899.8M245.1 892.9V899.8M256.8 892.9V903.1M264.7 884.4V903.1M268.9 884.4V896.7M278.4 885.0V896.7M282.4 885.0V896.7M290.1 876.3V896.7M299.0 876.3V893.7M308.1 891.3V899.8M315.9 896.1V899.8M328.8 889.8V898.5M333.4 889.8V901.6M342.7 885.0V901.6M348.7 866.0V887.4M354.6 824.0V868.4M360.4 824.0V869.3M366.7 866.9V878.7M372.7 876.3V898.5M387.8 888.0V898.5M393.7 886.8V890.4M401.0 875.4V889.2M405.5 875.4V899.8M413.0 891.3V899.8M420.4 884.1V893.7M426.7 875.4V886.5M431.1 875.4V895.3M444.6 892.9V901.6M452.3 896.1V901.6M459.9 892.9V898.5M465.5 875.4V895.3M471.6 866.0V877.8M476.1 866.0V896.7M485.1 883.5V896.7M491.1 843.0V885.9M495.6 843.0V895.3M503.2 892.9V896.7M510.6 888.0V896.7M516.7 870.4V890.4M522.6 870.4V890.4M528.6 888.0V899.8M536.2 887.1V899.8M542.1 887.1V899.8M549.7 881.2V899.8M555.6 853.8V883.6M561.4 853.8V898.5M582.7 893.8V898.5M588.8 879.0V896.2M594.8 862.8V881.4M600.3 862.8V896.2M606.8 893.8V901.6M614.0 744.2V901.6M620.1 744.2V844.5M626.1 842.1V892.2M632.0 889.8V901.6M647.3 896.1V901.6M653.1 885.0V898.5M660.7 877.8V887.4M664.8 877.8V898.5M671.1 896.1V899.8M678.7 883.5V899.8M684.3 883.5V899.5M696.7 897.1V901.6M711.7 891.3V901.6M718.0 887.1V893.7M723.4 887.1V898.5M731.0 893.8V898.5M735.5 893.8V902.7M744.7 899.2V902.7M750.4 883.5V901.6M755.0 883.5V902.7M764.0 898.9V902.7M768.5 898.9V904.9M776.2 896.1V904.9M783.8 893.8V898.5M794.1 893.8V899.8M803.1 893.8V899.8M809.0 891.3V896.2M815.0 885.0V893.7M820.8 885.0V898.5M828.9 893.8V898.5M833.0 893.8V899.8M842.0 892.9V899.8M846.4 892.9V898.5M854.1 892.9V898.5M860.4 892.9V898.5M865.8 896.1V904.9M873.4 896.1V904.9M879.9 830.3V898.5M885.4 830.3V896.2M891.7 893.8V902.7M899.3 889.8V902.7M905.2 889.8V899.5M911.0 897.1V904.5M918.4 893.8V904.5M924.5 893.8V901.6M931.9 890.7V901.6M936.4 890.7V899.5M949.9 897.1V902.7M957.5 806.9V902.7M965.1 761.3V809.3M969.6 761.3V898.5M975.5 896.1V901.6M984.6 897.1V901.6M990.5 881.7V899.5M995.0 881.7V898.5M1010.2 892.9V898.5M1016.1 874.9V895.3M1022.1 874.9V904.5M1035.4 897.1V904.5M1043.2 860.1V899.5M1047.7 860.1V901.6M1054.9 896.1V901.6M1060.8 896.1V902.7M1068.4 897.1V902.7M1074.7 892.9V899.5M1083.7 883.5V895.3M1092.7 883.5V889.5M1098.7 887.1V904.5M1107.5 893.8V904.5M1118.3 893.8V902.7M1127.0 898.9V902.7M1139.1 897.1V901.3M1146.8 891.3V899.5M1151.3 891.3V899.5M1156.7 897.1V901.6M1166.1 896.1V901.6M1171.9 893.8V898.5M1176.3 893.8V899.5M1192.0 892.9V899.5M1196.1 892.9V901.6M1205.2 896.1V901.6M1211.1 870.0V898.5M1215.4 870.0V884.5M1223.2 882.1V898.5M1235.3 896.1V901.6M1243.9 885.0V901.6M1248.4 885.0V898.5M1254.7 896.1V904.5M1263.7 896.1V904.5M1268.3 896.1V899.5M1275.8 845.1V899.5M1280.0 845.1V898.5M1289.0 752.3V898.5M1293.9 752.3V899.5M1301.1 738.4V899.5M1307.0 738.4V902.7M1314.6 768.2V902.7M1319.1 768.2V901.3M1328.1 893.8V901.3M1334.1 882.1V896.2M1338.6 882.1V886.5M1346.1 884.1V893.7M1352.1 891.3V898.5M1359.7 893.8V898.5M1365.6 893.8V901.6M1373.2 892.9V901.6M1379.1 889.8V895.3M1386.7 871.8V892.2M1391.2 871.8V896.2M1398.6 866.0V896.2M1404.7 866.0V901.6M1412.1 892.9V901.6M1418.2 873.1V895.3M1424.2 873.1V878.7M1430.2 876.3V898.5M1445.1 893.8V898.5M1449.6 893.8V901.3M1462.8 898.9V902.7M1470.4 888.0V902.7M1475.8 888.0V895.3M1481.2 892.9V904.5M1490.6 885.0V904.5M1494.7 885.0V896.2M1500.7 893.8V899.5M1508.2 897.1V901.6M1515.4 893.8V901.6M1520.8 893.8V898.5M1527.7 896.1V904.5M1541.2 898.9V904.5M1548.8 889.8V901.3M1553.3 889.8V896.2M1558.7 893.8V898.5M1568.3 881.2V898.5M1572.6 881.2V898.5M1580.0 892.9V898.5M1587.5 887.1V895.3M1593.9 869.1V889.5" stroke="#151515" stroke-width="1.6" fill="none"/>
<rect x="295" y="673.8" width="8" height="273" fill="#ff0000"/>
<rect x="1080" y="673.8" width="7.3" height="273" fill="#ff0000"/>
<path d="M40.2 673.8V947.6H1597.3" stroke="#555" stroke-width="2" fill="none"/>
<rect x="84.9" y="948.5" width="1" height="5" fill="#222"/>
<rect x="240.6" y="948.5" width="1" height="5" fill="#222"/>
<rect x="396.3" y="948.5" width="1" height="5" fill="#222"/>
<rect x="551.9" y="948.5" width="1" height="5" fill="#222"/>
<rect x="707.6" y="948.5" width="1" height="5" fill="#222"/>
<rect x="863.3" y="948.5" width="1" height="5" fill="#222"/>
<rect x="1019.0" y="948.5" width="1" height="5" fill="#222"/>
<rect x="1174.7" y="948.5" width="1" height="5" fill="#222"/>
<rect x="1330.3" y="948.5" width="1" height="5" fill="#222"/>
<rect x="1486.0" y="948.5" width="1" height="5" fill="#222"/>
</svg>
<span class="t" style="left:17.93px;top:667.60px;font-size:17.5px;color:#444;letter-spacing:-1.488px;">70</span>
<span class="t" style="left:26.50px;top:926.70px;font-size:17.5px;color:#444;">0</span>
<span class="t" style="left:1599.49px;top:671.50px;font-size:16.8px;color:#cc2020;letter-spacing:-1.428px;">30</span>
<span class="t" style="left:66.70px;top:948.70px;font-size:16px;color:#2c4a2c;letter-spacing:-0.645px;">20:47</span>
<span class="t" style="left:222.38px;top:948.70px;font-size:16px;color:#2c4a2c;letter-spacing:-0.645px;">20:48</span>
<span class="t" style="left:378.06px;top:948.70px;font-size:16px;color:#2c4a2c;letter-spacing:-0.645px;">20:49</span>
<span class="t" style="left:533.74px;top:948.70px;font-size:16px;color:#2c4a2c;letter-spacing:-0.645px;">20:50</span>
<span class="t" style="left:689.42px;top:948.70px;font-size:16px;color:#2c4a2c;letter-spacing:-0.645px;">20:51</span>
<span class="t" style="left:845.10px;top:948.70px;font-size:16px;color:#2c4a2c;letter-spacing:-0.645px;">20:52</span>
<span class="t" style="left:1000.78px;top:948.70px;font-size:16px;color:#2c4a2c;letter-spacing:-0.645px;">20:53</span>
<span class="t" style="left:1156.46px;top:948.70px;font-size:16px;color:#2c4a2c;letter-spacing:-0.645px;">20:54</span>
<span class="t" style="left:1312.14px;top:948.70px;font-size:16px;color:#2c4a2c;letter-spacing:-0.645px;">20:55</span>
<span class="t" style="left:1467.82px;top:948.70px;font-size:16px;color:#2c4a2c;letter-spacing:-0.645px;">20:56</span>
<span class="t" style="left:17.90px;top:854.50px;font-size:17px;color:#555;transform-origin:0 0;transform:rotate(-90deg);letter-spacing:-0.796px;">Latency (ms)</span>
<span class="t" style="left:1617.90px;top:772.30px;font-size:17px;color:#cf3030;transform-origin:0 0;transform:rotate(90deg);letter-spacing:-0.996px;">Packet Loss %</span>
<div class="b" style="left:0px;top:978.6px;width:1643px;height:9px;background:#efefef;"></div>
<div class="b" style="left:1580px;top:986px;width:9px;height:1px;background:#c9c9c9;"></div>
<span class="t" style="left:1668.00px;top:174.30px;font-size:17.5px;color:#555;transform-origin:0 0;transform:rotate(90deg);letter-spacing:0.037px;">Alerts</span>
</body></html>
